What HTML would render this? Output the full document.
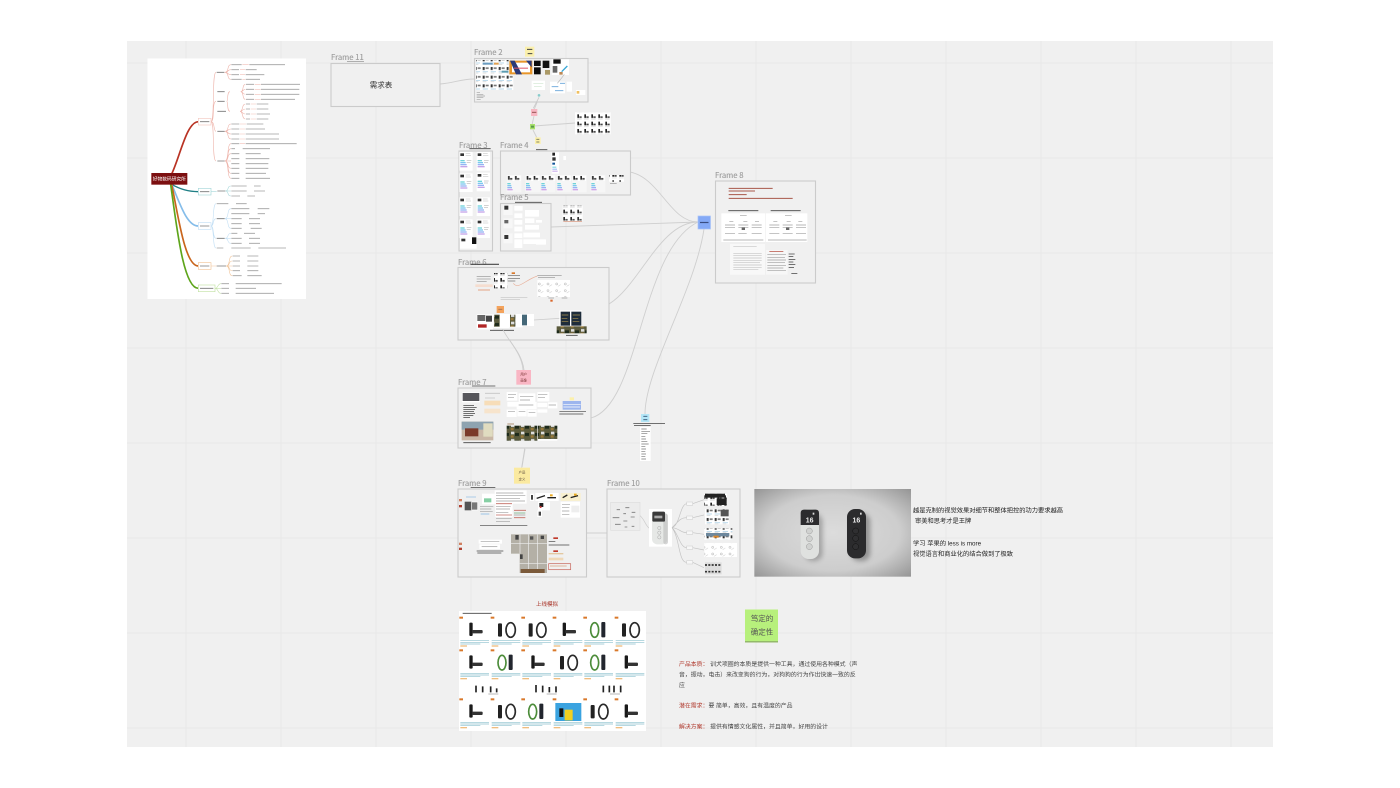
<!DOCTYPE html>
<html lang="zh">
<head>
<meta charset="utf-8">
<title>Diagram</title>
<style>
html,body{margin:0;padding:0;background:#fff;width:1400px;height:788px;overflow:hidden}
svg{display:block}
text{font-family:"Liberation Sans","Noto Sans CJK SC",sans-serif}
.fl{font-family:"Noto Sans CJK SC","Liberation Sans",sans-serif;font-size:7.7px;fill:#9c9c9c;stroke:#9c9c9c;stroke-width:.12px}
.fr{fill:#f0f0f0;stroke:#cbcbcb;stroke-width:1.1}
.c{fill:none;stroke:#cfcfcf;stroke-width:.9}
.sm{fill:none;stroke:#a0a0a0}
.d{stroke:#777}
.dk{fill:none;stroke:#444}
.lt{fill:none;stroke:#c4c4c4}
</style>
</head>
<body>
<svg width="1400" height="788" viewBox="0 0 1400 788" xmlns="http://www.w3.org/2000/svg">
<defs>
<pattern id="mini" width="24" height="26" patternUnits="userSpaceOnUse">
<rect width="24" height="26" fill="#fff"/>
<rect x="2" y="3" width="6" height="9" fill="#333"/><rect x="11" y="4" width="9" height="5" fill="#777"/>
<rect x="2" y="16" width="16" height="2" fill="#9cc8e2"/><rect x="2" y="20" width="11" height="2" fill="#ccc"/>
</pattern>
<pattern id="icons" width="21" height="22" patternUnits="userSpaceOnUse">
<rect width="21" height="22" fill="#fff"/>
<rect x="4" y="3" width="5" height="11" fill="#222"/><rect x="10" y="9" width="7" height="5" fill="#444"/>
<rect x="3" y="17" width="14" height="1.500" fill="#ccc"/>
</pattern>
<pattern id="photo" width="30" height="22" patternUnits="userSpaceOnUse">
<rect width="30" height="22" fill="#5a5a3c"/><rect x="3" y="2" width="10" height="8" fill="#ddd"/>
<rect x="15" y="6" width="12" height="9" fill="#1d2a1b"/><rect x="2" y="13" width="9" height="7" fill="#9a7a3a"/>
</pattern>
<pattern id="sketch" width="26" height="20" patternUnits="userSpaceOnUse">
<rect width="26" height="20" fill="#fff"/>
<circle cx="8" cy="7" r="3" fill="none" stroke="#888" stroke-width="1.100"/><path d="M12 14l8-5" stroke="#aaa" stroke-width="1.100"/>
</pattern>
<g id="card">
<rect width="40" height="56" fill="#fff"/>
<rect x="3" y="4" width="11" height="8" fill="#333"/><rect x="19" y="4" width="14" height="2" fill="#ccc"/><rect x="19" y="10" width="16" height="2" fill="#ccc"/>
<rect x="3" y="24" width="13" height="4" fill="#6fd3d8"/><rect x="3" y="30" width="16" height="4" fill="#7cc6f0"/><rect x="3" y="36" width="19" height="4" fill="#95b4f3"/><rect x="3" y="42" width="21" height="4" fill="#c4a4e8"/>
<rect x="22" y="24" width="14" height="2" fill="#bbb"/><rect x="22" y="30" width="12" height="2" fill="#bbb"/>
</g>
<g id="f4">
<rect width="44" height="52" fill="#f6f6f6"/>
<rect x="2" y="2" width="40" height="16" fill="url(#icons)"/>
<rect x="2" y="24" width="10" height="4" fill="#6fd3d8"/><rect x="2" y="30" width="12" height="4" fill="#7cc6f0"/><rect x="2" y="36" width="14" height="4" fill="#95b4f3"/><rect x="2" y="42" width="16" height="4" fill="#d0a4e8"/>
</g>
<g id="tx">
<path d="M3 72h86M3 77h86M3 82h60" stroke="#8cc0ce" stroke-width="2"/>
<rect x="3" y="86" width="20" height="4" fill="#efbd80"/>
<rect x="0" y="0" width="11" height="6" fill="#d9782a"/>
</g>
<g id="p1">
<rect width="92" height="96" fill="#fff"/>
<rect x="34" y="16" width="12" height="44" rx="3" fill="#1f1f1f"/><path d="M46 50h22v6H46z" fill="#444"/>
<use href="#tx"/>
</g>
<g id="p2">
<rect width="92" height="96" fill="#fff"/>
<rect x="22" y="20" width="12" height="40" rx="3" fill="#222"/>
<ellipse cx="60" cy="40" rx="14" ry="22" fill="none" stroke="#2a2a2a" stroke-width="5"/>
<use href="#tx"/>
</g>
<g id="p3">
<rect width="92" height="96" fill="#fff"/>
<ellipse cx="34" cy="40" rx="12" ry="22" fill="none" stroke="#4c8c3a" stroke-width="5"/>
<rect x="54" y="16" width="12" height="46" rx="3" fill="#22262e"/>
<use href="#tx"/>
</g>
<g id="p4">
<rect width="92" height="96" fill="#fff"/>
<rect x="30" y="18" width="10" height="40" rx="3" fill="#1a1a1a"/><rect x="38" y="40" width="32" height="10" rx="3" fill="#333"/>
<use href="#tx"/>
</g>
<radialGradient id="pg" cx=".5" cy=".5" r=".72">
<stop offset="0" stop-color="#dcdcdc"/><stop offset=".6" stop-color="#cdcdcd"/><stop offset="1" stop-color="#929292"/>
</radialGradient>
<filter id="b" x="-50%" y="-50%" width="200%" height="200%"><feGaussianBlur stdDeviation="7"/></filter>
</defs>

<rect width="1400" height="788" fill="#fff"/>
<rect x="127" y="41" width="1146" height="706" fill="#f0f0f0"/>
<path d="M186 41V747M281 41V747M376 41V747M471 41V747M566 41V747M661 41V747M756 41V747M851 41V747M946 41V747M1041 41V747M1136 41V747M1231 41V747M127 63H1273M127 158H1273M127 253H1273M127 348H1273M127 443H1273M127 538H1273M127 633H1273M127 728H1273" stroke="#e8e8e8" stroke-width="1" fill="none"/>

<!-- connectors -->
<path class="c" d="M440 84C455 83 460 79 474 79"/>
<path class="c" d="M540 95L534 110M534 116L532 125M533 130L537 138M534 126L575 123"/>
<path class="c" d="M630 172C660 178 670 222 698 222"/>
<path class="c" d="M551 227L698 222"/>
<path class="c" d="M609 304C640 285 660 222 698 222"/>
<path class="c" d="M591 418C640 405 640 250 698 222"/>
<path class="c" d="M704 229C695 290 645 370 645 414"/>
<path class="c" d="M503 330C512 345 522 355 523 370"/>
<path class="c" d="M525 449L522 467"/>
<path class="c" d="M586 533H607"/>

<!-- frames -->
<rect class="fr" x="331" y="63.500" width="109" height="43"/>
<rect class="fr" x="474.500" y="58.500" width="113.500" height="43.500"/>
<rect class="fr" x="459" y="151" width="33.500" height="100"/>
<rect class="fr" x="500.500" y="151" width="130" height="44"/>
<rect class="fr" x="500.500" y="203.500" width="50.500" height="47.500"/>
<rect class="fr" x="458" y="267.500" width="151" height="72.500"/>
<rect class="fr" x="458" y="388" width="133" height="60"/>
<rect class="fr" x="715.500" y="181" width="100" height="102"/>
<rect class="fr" x="458" y="489" width="128.500" height="88"/>
<rect class="fr" x="607" y="489" width="133" height="88"/>
<text class="fl" x="331" y="60">Frame 11</text>
<text class="fl" x="474" y="55">Frame 2</text>
<text class="fl" x="459" y="148">Frame 3</text>
<text class="fl" x="500" y="148">Frame 4</text>
<text class="fl" x="500" y="200">Frame 5</text>
<text class="fl" x="458" y="265">Frame 6</text>
<text class="fl" x="458" y="385">Frame 7</text>
<text class="fl" x="715" y="178">Frame 8</text>
<text class="fl" x="458" y="486">Frame 9</text>
<text class="fl" x="607" y="486">Frame 10</text>

<text x="381" y="87.500" font-size="7.500" fill="#333" text-anchor="middle">需求表</text>
<path d="M347 61.500H364" stroke="#999" stroke-width=".7"/>

<!-- mind map -->
<rect x="147.500" y="58.500" width="158.500" height="240.500" fill="#fff"/>
<g transform="translate(130 40) scale(.33333)">
<g fill="none" stroke-width="5">
<path d="M125 402C150 350 170 245 205 245" stroke="#b93324"/>
<path d="M125 433C150 448 180 455 205 455" stroke="#1f7f85" stroke-width="4"/>
<path d="M125 433C150 490 170 558 205 558" stroke="#85bdea"/>
<path d="M125 433C145 530 165 678 205 678" stroke="#c9651c"/>
<path d="M122 433C140 560 160 745 205 745" stroke="#5ea51b"/>
</g>
<g fill="none" stroke-width="1.800">
<path d="M243 245C255 245 245 97 258 97M243 245C255 245 245 184 258 184M243 245C255 245 250 274 258 274M243 245C255 245 245 363 258 363" stroke="#eeb5ac"/>
<path d="M284 97C298 97 290 74 303 74M284 97C298 97 290 89 303 89M284 97C298 97 290 104 303 104M284 97C298 97 290 118 303 118" stroke="#eeb5ac"/>
<path d="M332 155C342 155 336 133 346 133M332 155C340 155 338 148 346 148M332 155C340 155 338 163 346 163M332 155C342 155 336 178 346 178M290 184C295 184 290 155 300 155M290 184C295 184 290 214 300 214M330 214C340 214 335 192 346 192M330 214C340 214 335 207 346 207M330 214C340 214 335 222 346 222M330 214C340 214 335 237 346 237" stroke="#eeb5ac"/>
<path d="M284 274C298 274 290 252 303 252M284 274C298 274 290 267 303 267M284 274C298 274 290 282 303 282M284 274C298 274 290 297 303 297" stroke="#eeb5ac"/>
<path d="M284 363C298 363 290 311 303 311M284 363C298 363 290 326 303 326M284 363C298 363 290 341 303 341M284 363H303M284 363C298 363 290 385 303 385M284 363C298 363 290 400 303 400M284 363C298 363 290 415 303 415" stroke="#eeb5ac"/>
<path d="M243 455H260M286 453C298 453 290 438 303 438M286 453H303M286 453C298 453 290 468 303 468" stroke="#a6d7da"/>
<path d="M243 558C253 558 247 491 258 491M243 558C253 558 247 536 258 536M243 558C253 558 247 595 258 595M243 558C253 558 247 624 258 624M284 536C298 536 290 506 303 506M284 536H303M284 536C298 536 290 565 303 565M284 595C298 595 290 580 303 580M284 595H303M284 595C298 595 290 610 303 610" stroke="#c4e0f5"/>
<path d="M243 678H260M288 678C302 678 294 648 307 648M288 678C302 678 294 663 307 663M288 678H307M288 678C302 678 294 692 307 692M288 678C302 678 294 707 307 707" stroke="#f1c69c"/>
<path d="M255 745C265 745 262 731 273 731M255 745H273M255 745C265 745 262 760 273 760" stroke="#c4e2a6"/>
</g>
<g fill="#fff" stroke-width="2">
<rect x="205" y="235" width="38" height="20" stroke="#f3c9c2"/>
<rect x="205" y="445" width="38" height="20" stroke="#a6d7da"/>
<rect x="205" y="548" width="38" height="20" stroke="#c4e0f5"/>
<rect x="205" y="668" width="38" height="20" stroke="#f1c69c"/>
<rect x="205" y="735" width="50" height="20" stroke="#c4e2a6"/>
</g>
<path class="sm d" stroke-width="2.600" d="M210 245H238M210 455H238M210 558H238M210 678H238M210 745H250M260 97H283M262 155H284M262 214H288M262 274H284M262 184H284M262 363H284M262 453H286M260 536H284M260 595H284M260 678H288"/>
<path class="sm" stroke-width="2.600" d="M304 74H335M358 74H465M304 89H327M347 89H380M304 104H327M347 104H403M304 118H335M347 118H390M348 133H372M393 133H510M348 148H372M393 148H508M348 163H372M393 163H508M348 178H372M393 178H495M348 192H360M380 192H415M348 207H360M380 207H415M348 222H360M380 222H420M348 237H360M380 237H415M304 252H328M350 252H400M304 267H328M347 267H405M304 282H328M347 282H447M304 297H328M347 297H447M304 311H328M347 311H500M304 326H315M338 326H420M304 341H328M347 341H392M304 356H328M347 356H418M304 371H328M347 371H415M304 385H328M347 385H415M304 400H328M347 400H408M304 415H328M347 415H420M304 438H350M372 438H392M304 453H350M372 453H405M304 468H330M352 468H375M260 491H295M318 491H350M304 506H358M383 506H418M304 521H358M383 521H405M304 536H335M357 536H390M304 551H335M357 551H390M304 565H335M362 565H395M304 580H322M342 580H375M304 595H335M357 595H390M304 610H335M357 610H390M260 624H280M304 624H362M385 624H468M308 648H330M352 648H385M308 663H330M352 663H385M308 678H330M352 678H385M308 692H330M352 692H385M308 707H335M352 707H395M274 731H297M317 731H455M274 745H297M317 745H378M274 760H297M317 760H432"/>
<path stroke="#f2bfb6" stroke-width="1.800" fill="none" d="M337 74H356M330 89H345M330 104H345M337 118H345M374 133H392M374 148H392M374 163H392M374 178H392M362 192H378M362 207H378M362 222H378M362 237H378M330 252H348M330 267H345M330 282H345M330 297H345M330 311H345"/>
<rect x="64" y="399" width="108" height="35" fill="#7c0f10"/>
<text x="118" y="421" font-size="14.200" fill="#fff" text-anchor="middle">好物数码研究所</text>
</g>

<!-- frame 2, frame 3, 4, 5 contents -->
<g transform="translate(450 40) scale(.33333)">
<rect x="78" y="60" width="98" height="46" fill="url(#mini)"/>
<rect x="78" y="106" width="112" height="44" fill="url(#mini)"/>
<rect x="98" y="68" width="30" height="6" fill="#6a9cc0"/><rect x="132" y="68" width="14" height="6" fill="#e0a050"/><rect x="155" y="92" width="20" height="6" fill="#5a9bb0"/>
<rect x="178" y="62" width="69" height="41" fill="#e8962a"/><rect x="186" y="68" width="54" height="29" fill="#fff"/><path d="M180 62h14l22 41h-18zM228 62h17v20z" fill="#2b3a78"/><rect x="192" y="83" width="42" height="3" fill="#d56"/>
<rect x="252" y="62" width="20" height="16" fill="#0b0b0b"/><rect x="252" y="82" width="20" height="21" fill="#0b0b0b"/><rect x="278" y="62" width="20" height="22" fill="#111"/><rect x="285" y="90" width="15" height="14" fill="#a96"/>
<rect x="305" y="58" width="52" height="47" fill="#fff"/><rect x="310" y="58" width="22" height="13" fill="#111"/><rect x="308" y="78" width="14" height="20" fill="#666"/><path d="M335 95L352 78" stroke="#38a6d6" stroke-width="4"/><rect x="328" y="96" width="10" height="8" fill="#b85"/>
<path class="sm" stroke-width="2" d="M80 158H90M80 163H100M80 168H105M80 173H100M80 178H92"/>
<rect x="245" y="122" width="40" height="28" fill="#fff"/><path d="M250 130H280M252 140H275" stroke="#cfe5cf" stroke-width="2"/>
<circle cx="267" cy="166" r="4" fill="#8cc"/>
<rect x="300" y="125" width="45" height="35" fill="#fff"/><path d="M305 140H325M315 152H340M330 130H345" stroke="#7bb0de" stroke-width="3"/>
<rect x="350" y="125" width="16" height="30" fill="#fff"/><rect x="378" y="150" width="28" height="15" fill="#fff"/><rect x="380" y="153" width="8" height="8" fill="#f0c060"/>
<path d="M343 103C335 115 330 120 322 130" stroke="#bbb" stroke-width="2" fill="none"/>
<path d="M267 172L250 205" stroke="#c8c8c8" stroke-width="2.500" fill="none"/>
<rect x="225" y="20" width="28" height="30" fill="#fbf0ac"/><path class="dk" d="M231 28H247M233 41H247" stroke-width="3"/>
<rect x="243" y="207" width="19" height="21" fill="#f7b7c2"/><path d="M246 217H259" stroke="#955" stroke-width="3"/>
<rect x="240" y="252" width="15" height="16" fill="#a8e06c"/><rect x="243" y="257" width="9" height="6" fill="#5a9a4a"/>
<rect x="255" y="292" width="17" height="20" fill="#fbf0ac"/><path d="M259 298H268M259 306H268" stroke="#886" stroke-width="3"/>
<rect x="375" y="217" width="107" height="66" fill="url(#icons)"/>

<use href="#card" x="28" y="336"/><use href="#card" x="80" y="336"/>
<use href="#card" x="28" y="400"/><use href="#card" x="80" y="398"/>
<use href="#card" x="28" y="472"/><use href="#card" x="80" y="472"/>
<use href="#card" x="28" y="538"/><use href="#card" x="80" y="538"/>
<rect x="30" y="592" width="50" height="34" fill="#fff"/><rect x="66" y="592" width="13" height="20" fill="#111"/><rect x="34" y="596" width="12" height="8" fill="#333"/>
<path class="dk" d="M58 326H122" stroke-width="2.500"/>

<path class="dk" d="M258 329H292" stroke-width="2.500"/>
<rect x="305" y="337" width="22" height="64" fill="#fff"/><rect x="307" y="338" width="8" height="9" fill="#222"/><rect x="307" y="352" width="10" height="10" fill="#333"/><rect x="307" y="368" width="8" height="6" fill="#159"/>
<rect x="307" y="380" width="12" height="3" fill="#6fd3d8"/><rect x="307" y="386" width="14" height="3" fill="#95b4f3"/><rect x="307" y="392" width="16" height="3" fill="#c4a4e8"/>
<rect x="340" y="348" width="8" height="12" fill="#fff"/>
<use href="#f4" x="170" y="405"/><use href="#f4" x="226" y="405"/><use href="#f4" x="272" y="405"/><use href="#f4" x="320" y="405"/><use href="#f4" x="366" y="405"/><use href="#f4" x="422" y="405"/>
<rect x="477" y="405" width="45" height="20" fill="url(#icons)"/><rect x="480" y="430" width="20" height="2" fill="#999"/>

<path class="dk" d="M195 487H276" stroke-width="2.500"/>
<rect x="160" y="495" width="28" height="30" fill="#f7f7f7"/><rect x="163" y="497" width="12" height="12" fill="#333"/>
<rect x="160" y="535" width="28" height="30" fill="#f7f7f7"/><rect x="163" y="540" width="12" height="10" fill="#666"/>
<rect x="160" y="580" width="28" height="30" fill="#f7f7f7"/><rect x="163" y="585" width="12" height="12" fill="#333"/>
<path fill="#fff" d="M193 498h25v14h-25zM225 510h42v20h-42zM193 520h24v14h-24zM193 540h24v14h-24zM225 535h28v14h-28zM258 540h18v8h-18zM193 560h24v14h-24zM225 555h42v14h-42zM193 580h24v14h-24zM220 578h50v14h-50zM193 598h24v26h-24zM220 598h68v14h-68zM258 606h30v8h-30z"/>
<rect x="338" y="497" width="60" height="45" fill="url(#icons)" opacity=".95"/><path d="M340 545H396" stroke="#d58c72" stroke-width="2"/>
</g>

<!-- frame 6, 7, note -->
<g transform="translate(450 255) scale(.33333)">
<path class="dk" d="M62 28H147" stroke-width="3.500"/>
<path class="sm" stroke-width="2.200" d="M80 65H122M80 72H122M80 79H110"/>
<rect x="76" y="88" width="52" height="8" fill="#f5ddd0"/><rect x="84" y="103" width="36" height="4" fill="#e8b6a0"/>
<rect x="132" y="54" width="40" height="46" fill="url(#icons)"/>
<rect x="185" y="52" width="10" height="5" fill="#d9782a"/>
<path class="sm d" stroke-width="2.200" d="M174 62H210M174 70H210M174 78H196"/>
<path d="M190 85C205 105 225 75 262 63" stroke="#e8b09a" stroke-width="2" fill="none"/>
<path class="sm" stroke-width="2.200" d="M262 62H335M264 68H315"/>
<rect x="262" y="75" width="98" height="51" fill="url(#sketch)"/>
<path class="sm" stroke-width="2" d="M295 129H312M335 129H352"/><rect x="301" y="134" width="7" height="6" fill="#d9662a"/>
<path class="lt" stroke-width="2" d="M152 127H232M152 134H210"/>
<rect x="140" y="153" width="22" height="21" fill="#f4a35c"/><path d="M145 163H157" stroke="#a75" stroke-width="3"/>
<rect x="80" y="178" width="49" height="45" fill="#fff"/><rect x="82" y="180" width="24" height="18" fill="#666"/><rect x="108" y="182" width="18" height="18" fill="#444"/><rect x="84" y="208" width="26" height="10" fill="#b02525"/>
<rect x="130" y="177" width="48" height="42" fill="#fff"/><rect x="132" y="179" width="17" height="36" fill="url(#photo)"/>
<rect x="178" y="177" width="40" height="40" fill="#fff"/><rect x="180" y="179" width="16" height="36" fill="url(#photo)"/>
<rect x="216" y="177" width="36" height="36" fill="#fff"/><rect x="216" y="179" width="15" height="32" fill="#456878"/>
<path class="dk" d="M120 226H192" stroke-width="2.500"/>
<path d="M252 195L330 190" stroke="#ccc" stroke-width="2.500" fill="none"/>
<rect x="328" y="166" width="68" height="46" fill="#fff"/><rect x="332" y="170" width="28" height="42" fill="#1e2c3a"/><rect x="364" y="170" width="30" height="42" fill="#1e2c3a"/>
<path d="M335 180H355M335 190H352M335 200H355M368 180H390M368 190H385M368 200H388" stroke="#a9914f" stroke-width="2"/>
<rect x="320" y="214" width="90" height="21" fill="url(#photo)"/>
<path class="dk" d="M348 241H383" stroke-width="2.500"/>
<path d="M158 222C175 260 215 290 222 345" stroke="#ccc" stroke-width="2.500" fill="none"/>
<rect x="199" y="345" width="44" height="44" fill="#f9b6c4"/>
<text x="221" y="361" font-size="10" fill="#733" text-anchor="middle">用户</text>
<text x="221" y="379" font-size="10" fill="#733" text-anchor="middle">画像</text>

<path class="dk" d="M66 393H136" stroke-width="2.500"/>
<rect x="36" y="412" width="54" height="30" fill="#fff"/><rect x="38" y="414" width="50" height="24" fill="#55555a"/>
<path class="dk" stroke-width="2.200" d="M40 452H72M40 458H80M40 464H75M40 470H72M40 476H75M40 482H70M40 488H60"/>
<path class="lt" stroke-width="2.500" d="M105 415H150M105 429H135"/>
<rect x="103" y="437" width="48" height="14" fill="#f7ddb8"/>
<rect x="103" y="461" width="48" height="14" fill="#f7e4cc"/>
<path fill="#fff" d="M170 411h32v26h-32zM206 415h50v30h-50zM262 411h36v28h-36zM172 441h30v14h-30zM200 441h60v22h-60zM262 444h30v12h-30zM294 442h28v18h-28zM170 464h30v22h-30zM202 464h28v20h-28zM232 465h28v20h-28zM262 463h30v10h-30z"/>
<path class="sm" stroke-width="2" d="M174 418H198M174 428H192M210 425H250M210 435H240M264 418H292M264 428H285M206 450H250M174 470H195M206 470H226M236 472H256M296 450H318"/>
<rect x="359" y="427" width="13" height="9" fill="#fbf0ac"/>
<rect x="338" y="438" width="55" height="26" fill="#9db6ee"/><path d="M340 448H392M340 456H390" stroke="#fff" stroke-width="2"/>
<path class="dk" stroke-width="2" d="M328 470H408M328 477H400"/>
<rect x="35" y="500" width="95" height="56" fill="#c9b7a6"/><rect x="35" y="500" width="95" height="24" fill="#8ea3b0"/><rect x="45" y="520" width="40" height="24" fill="#7a3a2a"/><rect x="100" y="505" width="28" height="40" fill="#e0dcc0"/>
<path class="dk" stroke-width="2.500" d="M40 563H122"/>
<path d="M172 507H192" stroke="#a58060" stroke-width="2.500"/>
<rect x="170" y="512" width="92" height="45" fill="url(#photo)"/>
<rect x="264" y="512" width="58" height="45" fill="#fff"/><rect x="264" y="512" width="58" height="40" fill="url(#photo)"/>
<path d="M224 581L215 638" stroke="#ccc" stroke-width="2.500" fill="none"/>
<rect x="573" y="477" width="25" height="24" fill="#b4e6f7"/><path d="M580 484H592M580 494H592" stroke="#357" stroke-width="2.500"/>
<path class="dk" stroke-width="2.200" d="M550 505H645M552 511H602"/>
<rect x="570" y="516" width="32" height="102" fill="#fff"/>
<path class="sm d" stroke-width="2" d="M574 522H590M574 529H600M574 536H592M574 544H586M574 552H588M574 560H592M574 567H596M574 575H586M574 582H588M574 590H586M574 597H588M574 605H586M574 612H588"/>
</g>

<!-- frame 8 -->
<g transform="translate(690 170) scale(.33333)">
<path d="M116 55H248M116 63H195M116 74H170M116 85H308" stroke="#a8574a" stroke-width="3"/>
<path class="dk" stroke-width="2.500" d="M115 122H205M242 122H332"/>
<rect x="94" y="130" width="132" height="86" fill="#fff"/><rect x="228" y="130" width="124" height="86" fill="#fff"/>
<path class="sm" stroke-width="2" d="M150 136H170M118 155H130M160 155H172M195 155H207M105 165H135M145 165H175M185 165H215M105 173H135M145 173H175M185 173H215M105 190H135M145 190H170M185 190H215M100 210H220M285 136H305M250 155H262M290 155H302M325 155H337M238 165H268M278 165H308M318 165H348M238 173H268M278 173H308M318 173H348M238 190H268M278 190H308M318 190H348M234 210H350"/>
<rect x="155" y="172" width="10" height="8" fill="#666"/><rect x="288" y="172" width="10" height="8" fill="#666"/>
<rect x="120" y="222" width="105" height="92" fill="#f8f8f8"/>
<path class="lt" stroke-width="2" d="M130 230H200M130 250H215M130 257H215M130 264H215M130 271H215M130 278H210M130 285H215M130 292H215M130 299H205"/>
<rect x="228" y="240" width="65" height="74" fill="#f7f7f7"/>
<path stroke="#b04030" stroke-width="2" d="M238 245H280"/>
<path class="sm" stroke-width="2" d="M232 254H288M232 262H285M232 270H288M232 278H285M232 286H288M232 294H280M232 302H288"/>
<path class="dk" stroke-width="2.200" d="M296 252H314M296 260H310M296 268H316M296 276H310M296 284H316M296 292H312M304 310H322"/>
</g>
<rect x="698" y="216" width="12.500" height="13" fill="#84a9f6" stroke="#a9c4f8" stroke-width=".7"/>
<path d="M700 222.500H708.500" stroke="#3a4d80" stroke-width="1.200"/>

<!-- frame 9, 10 -->
<g transform="translate(450 465) scale(.33333)">
<rect x="192" y="8" width="48" height="48" fill="#fbeaa0"/>
<text x="216" y="25" font-size="10" fill="#654" text-anchor="middle">产品</text>
<text x="216" y="46" font-size="10" fill="#654" text-anchor="middle">定义</text>
<path class="dk" stroke-width="2.200" d="M62 67H136"/>
<rect x="27" y="102" width="9" height="7" fill="#d08060"/><rect x="27" y="120" width="9" height="7" fill="#b04030"/><rect x="27" y="233" width="9" height="7" fill="#d08060"/><rect x="27" y="248" width="9" height="7" fill="#b04030"/>
<rect x="44" y="110" width="40" height="26" fill="#fff"/><rect x="44" y="110" width="20" height="26" fill="#555"/><rect x="66" y="112" width="16" height="22" fill="#777"/>
<path stroke="#8cbce4" stroke-width="2" d="M48 96H78"/>
<rect x="96" y="86" width="38" height="32" fill="#fff"/><rect x="102" y="100" width="22" height="12" fill="#86cfa4"/>
<path class="sm" stroke-width="2" d="M90 124H130M90 132H124M90 140H128"/>
<path stroke="#8cbce4" stroke-width="2.500" d="M92 147H118"/>
<rect x="134" y="76" width="96" height="40" fill="#fff"/>
<path class="sm" stroke-width="2" d="M138 84H220M138 92H226M138 100H210M138 108H225"/>
<rect x="136" y="116" width="52" height="40" fill="#fff"/>
<path stroke="#c26a60" stroke-width="2.500" d="M138 116H186M138 150H186M192 136H228M192 158H226"/>
<path stroke="#7db58a" stroke-width="2.500" d="M192 144H226"/>
<path class="sm" stroke-width="2" d="M138 124H182M138 132H180M138 142H175M138 160H185M138 170H180M192 150H226"/>
<rect x="240" y="86" width="12" height="22" fill="#fff"/><rect x="243" y="90" width="6" height="14" fill="#444"/>
<rect x="256" y="84" width="70" height="24" fill="#fff"/><path d="M260 100L285 92M292 98H318" stroke="#222" stroke-width="4"/><rect x="300" y="88" width="8" height="6" fill="#e8a820"/>
<rect x="332" y="84" width="60" height="24" fill="#f8f0d0"/><path d="M338 98L352 90M362 98L384 92" stroke="#222" stroke-width="4"/><rect x="372" y="86" width="8" height="6" fill="#e8a820"/>
<rect x="264" y="110" width="36" height="26" fill="#fff"/><rect x="268" y="114" width="12" height="12" fill="#222"/><circle cx="272" cy="126" r="3" fill="#c33"/>
<rect x="262" y="136" width="14" height="20" fill="#fff"/><rect x="266" y="140" width="7" height="12" fill="#444"/>
<rect x="332" y="110" width="58" height="48" fill="#fff"/><path class="sm" stroke-width="2" d="M336 118H360M336 128H358M336 138H358M336 148H358"/><rect x="364" y="122" width="24" height="20" fill="#eee"/>
<path class="dk" stroke-width="2" d="M90 181H232"/>
<rect x="86" y="224" width="70" height="12" fill="#fff"/><path class="sm" stroke-width="2" d="M92 230H148"/>
<rect x="88" y="238" width="62" height="14" fill="#fff"/><path class="sm" stroke-width="2.200" d="M95 245H142"/>
<path class="dk" stroke-width="2" d="M80 258H160M82 264H154"/>
<rect x="183" y="208" width="108" height="58" fill="#b4b0a6"/><rect x="209" y="265" width="82" height="59" fill="#b4b0a6"/>
<path d="M183 236H291M209 296H291M210 208V266M236 208V324M263 208V324" stroke="#eee" stroke-width="2"/>
<rect x="196" y="210" width="10" height="14" fill="#444"/><rect x="240" y="214" width="10" height="10" fill="#555"/><rect x="272" y="212" width="10" height="10" fill="#444"/><rect x="212" y="312" width="72" height="12" fill="#7b5a3a"/><rect x="210" y="268" width="8" height="14" fill="#444"/>
<rect x="310" y="217" width="14" height="5" fill="#c0392b"/><path class="dk" stroke-width="2" d="M296 229H316"/>
<path class="dk" stroke-width="2.200" d="M296 240H358"/>
<rect x="310" y="256" width="14" height="5" fill="#c0392b"/>
<rect x="296" y="264" width="44" height="4" fill="#e3c8a0"/><rect x="296" y="278" width="44" height="8" fill="#efd8b8"/>
<rect x="296" y="296" width="66" height="18" fill="none" stroke="#c96a60" stroke-width="2.200"/><path d="M300 303H350" stroke="#d8a080" stroke-width="2"/>

<rect x="482" y="112" width="88" height="84" fill="#ececec" stroke="#ddd" stroke-width="2"/>
<path class="sm d" stroke-width="2.500" d="M500 134H510M526 128H538M520 146H528M545 142H556M488 158H508M542 156H554M520 168H532M495 178H512M545 184H553M524 186H532"/>
<path d="M570 152C585 165 585 180 598 190" stroke="#ccc" stroke-width="2" fill="none"/>
<rect x="597" y="132" width="69" height="113" fill="#fff"/>
<rect x="606" y="140" width="46" height="98" rx="16" fill="#e6e8e6"/>
<rect x="640" y="146" width="14" height="92" rx="7" fill="#bbb" opacity=".6"/>
<rect x="607" y="140" width="38" height="30" rx="4" fill="#3a3a3a"/><rect x="613" y="152" width="24" height="8" fill="#aaa"/>
<circle cx="628" cy="189" r="5" fill="none" stroke="#aaa" stroke-width="1.500"/><circle cx="628" cy="203" r="5" fill="none" stroke="#aaa" stroke-width="1.500"/><circle cx="628" cy="217" r="5" fill="none" stroke="#aaa" stroke-width="1.500"/>
<path d="M666 188C690 180 690 118 710 116M666 188C685 170 690 158 710 158M666 188C690 190 690 203 710 203M666 188C685 205 690 248 710 248M666 188C690 220 685 292 710 292M728 116L762 104M728 158L762 150M728 203L762 208M728 248L762 255M728 292L762 308" stroke="#c4c4c4" stroke-width="2" fill="none"/>
<g fill="#f7f7f7" stroke="#ccc" stroke-width="1.500"><rect x="710" y="111" width="18" height="10"/><rect x="710" y="153" width="18" height="10"/><rect x="710" y="198" width="18" height="10"/><rect x="710" y="243" width="18" height="10"/><rect x="710" y="287" width="18" height="10"/></g>
<rect x="763" y="84" width="68" height="38" fill="url(#icons)"/><rect x="765" y="86" width="60" height="12" fill="#222"/><rect x="800" y="100" width="30" height="20" fill="#222"/>
<rect x="765" y="132" width="72" height="46" fill="url(#mini)"/><rect x="812" y="134" width="24" height="20" fill="#555"/>
<rect x="763" y="190" width="84" height="34" fill="url(#mini)"/><rect x="768" y="204" width="70" height="10" fill="#6c889e"/><rect x="790" y="212" width="16" height="6" fill="#d9862a"/>
<rect x="763" y="234" width="98" height="42" fill="url(#sketch)"/>
<rect x="765" y="292" width="50" height="36" fill="#ddd"/>
<path d="M765 300H815M765 320H815" stroke="#333" stroke-width="5" stroke-dasharray="6 4"/>
</g>

<!-- product photo -->
<g transform="translate(750 485) scale(.33333)">
<rect x="13" y="12" width="470" height="263" fill="url(#pg)"/>
<rect x="164" y="86" width="54" height="142" rx="24" fill="#666" opacity=".45" filter="url(#b)"/>
<rect x="303" y="86" width="58" height="142" rx="24" fill="#555" opacity=".5" filter="url(#b)"/>
<rect x="152" y="72" width="55" height="150" rx="24" fill="#dfe1df"/>
<path d="M152 120V84q0-10 10-10h35q10 0 10 10v36z" fill="#2c2c2e"/>
<text x="179" y="112" font-size="21" fill="#eee" text-anchor="middle" font-weight="bold">16</text><rect x="188" y="83" width="5" height="6" fill="#ddd"/>
<circle cx="178" cy="138" r="9" fill="#d0d2d0" stroke="#9a9a9a" stroke-width="1.500"/><circle cx="178" cy="161" r="9" fill="#d0d2d0" stroke="#9a9a9a" stroke-width="1.500"/><circle cx="178" cy="185" r="9" fill="#d0d2d0" stroke="#9a9a9a" stroke-width="1.500"/>
<rect x="291" y="72" width="57" height="148" rx="24" fill="#2b2b2d"/>
<text x="319" y="112" font-size="21" fill="#eee" text-anchor="middle" font-weight="bold">16</text><rect x="330" y="83" width="5" height="6" fill="#ddd"/>
<circle cx="317" cy="138" r="9" fill="#2f2f31" stroke="#111" stroke-width="1.500"/><circle cx="317" cy="160" r="9" fill="#2f2f31" stroke="#111" stroke-width="1.500"/><circle cx="317" cy="185" r="9" fill="#2f2f31" stroke="#111" stroke-width="1.500"/>
</g>
<g font-size="6.250" fill="#222">
<text x="913" y="512.500">越是克制的视觉效果对细节和整体把控的功力要求越高</text>
<text x="915" y="523">审美和思考才是王牌</text>
<text x="913" y="545.500">学习 苹果的 less is more</text>
<text x="913" y="556">视觉语言和商业化的结合做到了极致</text>
</g>

<!-- launch simulation -->
<text x="547" y="606" font-size="5.500" fill="#a83226" text-anchor="middle">上线模拟</text>
<rect x="459" y="611" width="187" height="120" fill="#fff"/>
<g transform="translate(450 595) scale(.33333)">
<path class="dk" stroke-width="2.500" d="M38 55H125"/>
<use href="#p4" x="28" y="65"/><use href="#p2" x="122" y="65"/><use href="#p2" x="214" y="65"/><use href="#p4" x="308" y="65"/><use href="#p3" x="400" y="65"/><use href="#p2" x="494" y="65"/>
<use href="#p4" x="28" y="163"/><use href="#p3" x="122" y="163"/><use href="#p4" x="214" y="163"/><use href="#p2" x="308" y="163"/><use href="#p3" x="400" y="163"/><use href="#p4" x="494" y="163"/>
<path d="M78 272V292M98 274V292M122 274V292M140 280V292M258 270V292M278 272V292M298 276V292M318 274V292M460 272V292M478 272V292M492 272V292M512 272V292" stroke="#222" stroke-width="5"/>
<path class="sm" stroke-width="2" d="M115 297H145M290 297H320M480 297H510"/>
<use href="#p4" x="28" y="310"/><use href="#p2" x="122" y="310"/><use href="#p3" x="214" y="310"/>
<g transform="translate(308 310)"><use href="#p1"/><rect x="8" y="14" width="78" height="54" fill="#3aa3e0"/><rect x="36" y="34" width="24" height="32" fill="#f0d020"/><rect x="20" y="30" width="12" height="26" fill="#111"/></g>
<use href="#p2" x="400" y="310"/><use href="#p4" x="494" y="310"/>
</g>

<rect x="745" y="609.500" width="33" height="32.500" fill="#b7f07c"/>
<rect x="745" y="641" width="33" height="1.500" fill="#93b96a"/>
<g font-size="7.500" fill="#555" text-anchor="middle">
<text x="762" y="621">笃定的</text>
<text x="762" y="634.500">确定性</text>
</g>

<g font-size="5.900" fill="#444">
<text x="679" y="666"><tspan fill="#b03a2e">产品本质：</tspan> 训犬项圈的本质是提供一种工具，通过使用各种模式（声</text>
<text x="679" y="676.500">音，振动，电击）来改变狗的行为，对狗狗的行为作出快速一致的反</text>
<text x="679" y="687">应</text>
<text x="679" y="707.500"><tspan fill="#b03a2e">潜在需求：</tspan>要 简单，高效，且有温度的产品</text>
<text x="679" y="728.500"><tspan fill="#b03a2e">解决方案：</tspan> 提供有情感文化属性，并且简单，好用的设计</text>
</g>
</svg>
</body>
</html>
